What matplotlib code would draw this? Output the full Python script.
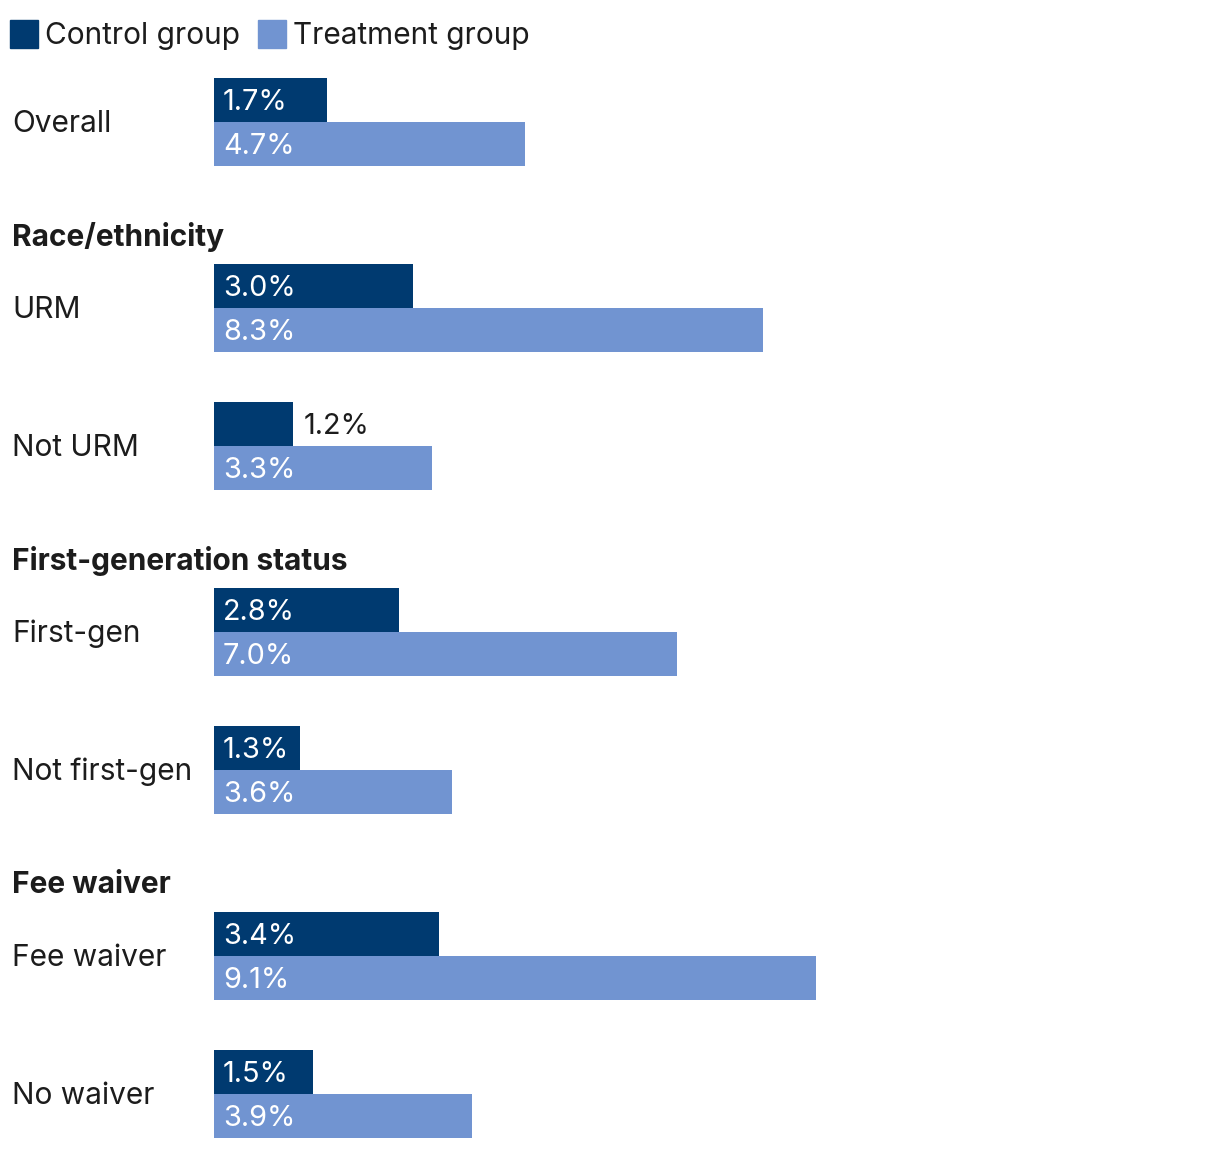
import matplotlib
matplotlib.use("Agg")
import matplotlib.pyplot as plt
from matplotlib.patches import Rectangle

plt.rcParams['font.family'] = ['Inter', 'DejaVu Sans']

categories = ["Overall", "URM", "Not URM", "First-gen", "Not first-gen", "Fee waiver", "No waiver"]
group_of = ["", "Race/ethnicity", "Race/ethnicity", "First-generation status",
            "First-generation status", "Fee waiver", "Fee waiver"]
control = [1.7, 3.0, 1.2, 2.8, 1.3, 3.4, 1.5]
treatment = [4.7, 8.3, 3.3, 7.0, 3.6, 9.1, 3.9]
series_names = ["Control group", "Treatment group"]

C_DARK = "#003a70"
C_LIGHT = "#7194d1"
TXT = "#1c1c1c"
FS = 21.5
FS_BAR = 20.8

W, H = 1220, 1150
fig = plt.figure(figsize=(W / 100, H / 100), dpi=100)
px_per_unit = 66.2
ax_left = 214
ax = fig.add_axes([ax_left / W, 0, (W - ax_left) / W, 1])
ax.set_xlim(0, (W - ax_left) / px_per_unit)
ax.set_ylim(H, 0)
ax.axis("off")

bar_h = 44
row_step = 138
header_extra = 48
first_top = 78

tops = []
headers = []
n_head = 0
prev_group = None
for i, g in enumerate(group_of):
    if g and g != prev_group:
        n_head += 1
    top = first_top + row_step * i + header_extra * n_head
    if g and g != prev_group:
        headers.append((g, top - 29))
    prev_group = g
    tops.append(top)

yc = [t + bar_h / 2 for t in tops]
yt = [t + bar_h * 1.5 for t in tops]
ax.barh(yc, control, height=bar_h, color=C_DARK, align="center")
ax.barh(yt, treatment, height=bar_h, color=C_LIGHT, align="center")

def fy(ypix):
    return 1 - ypix / H

TX = 12
for cat, t in zip(categories, tops):
    fig.text(TX / W, fy(t + bar_h + 2), cat, fontsize=FS, color=TXT, va="center", ha="left")
for g, y in headers:
    fig.text(TX / W, fy(y + 2), g, fontsize=FS, color=TXT, va="center", ha="left", fontweight="bold")

for vals, ys in ((control, yc), (treatment, yt)):
    for v, y in zip(vals, ys):
        lab = f"{v:.1f}%"
        if v * px_per_unit < 82:
            ax.annotate(lab, xy=(v, y), xytext=(10, -2), textcoords="offset pixels",
                        fontsize=FS_BAR, color=TXT, va="center", ha="left")
        else:
            ax.annotate(lab, xy=(0, y), xytext=(9, -2), textcoords="offset pixels",
                        fontsize=FS_BAR, color="white", va="center", ha="left")

# legend
leg_x = [10, 258]
for x0, name, col in zip(leg_x, series_names, [C_DARK, C_LIGHT]):
    fig.patches.append(Rectangle((x0 / W, fy(48)), 28 / W, 28 / H, transform=fig.transFigure,
                                 color=col, figure=fig))
    fig.text((x0 + 35) / W, fy(36), name, fontsize=FS, color=TXT, va="center", ha="left")

fig.savefig("out.png", dpi=100)
